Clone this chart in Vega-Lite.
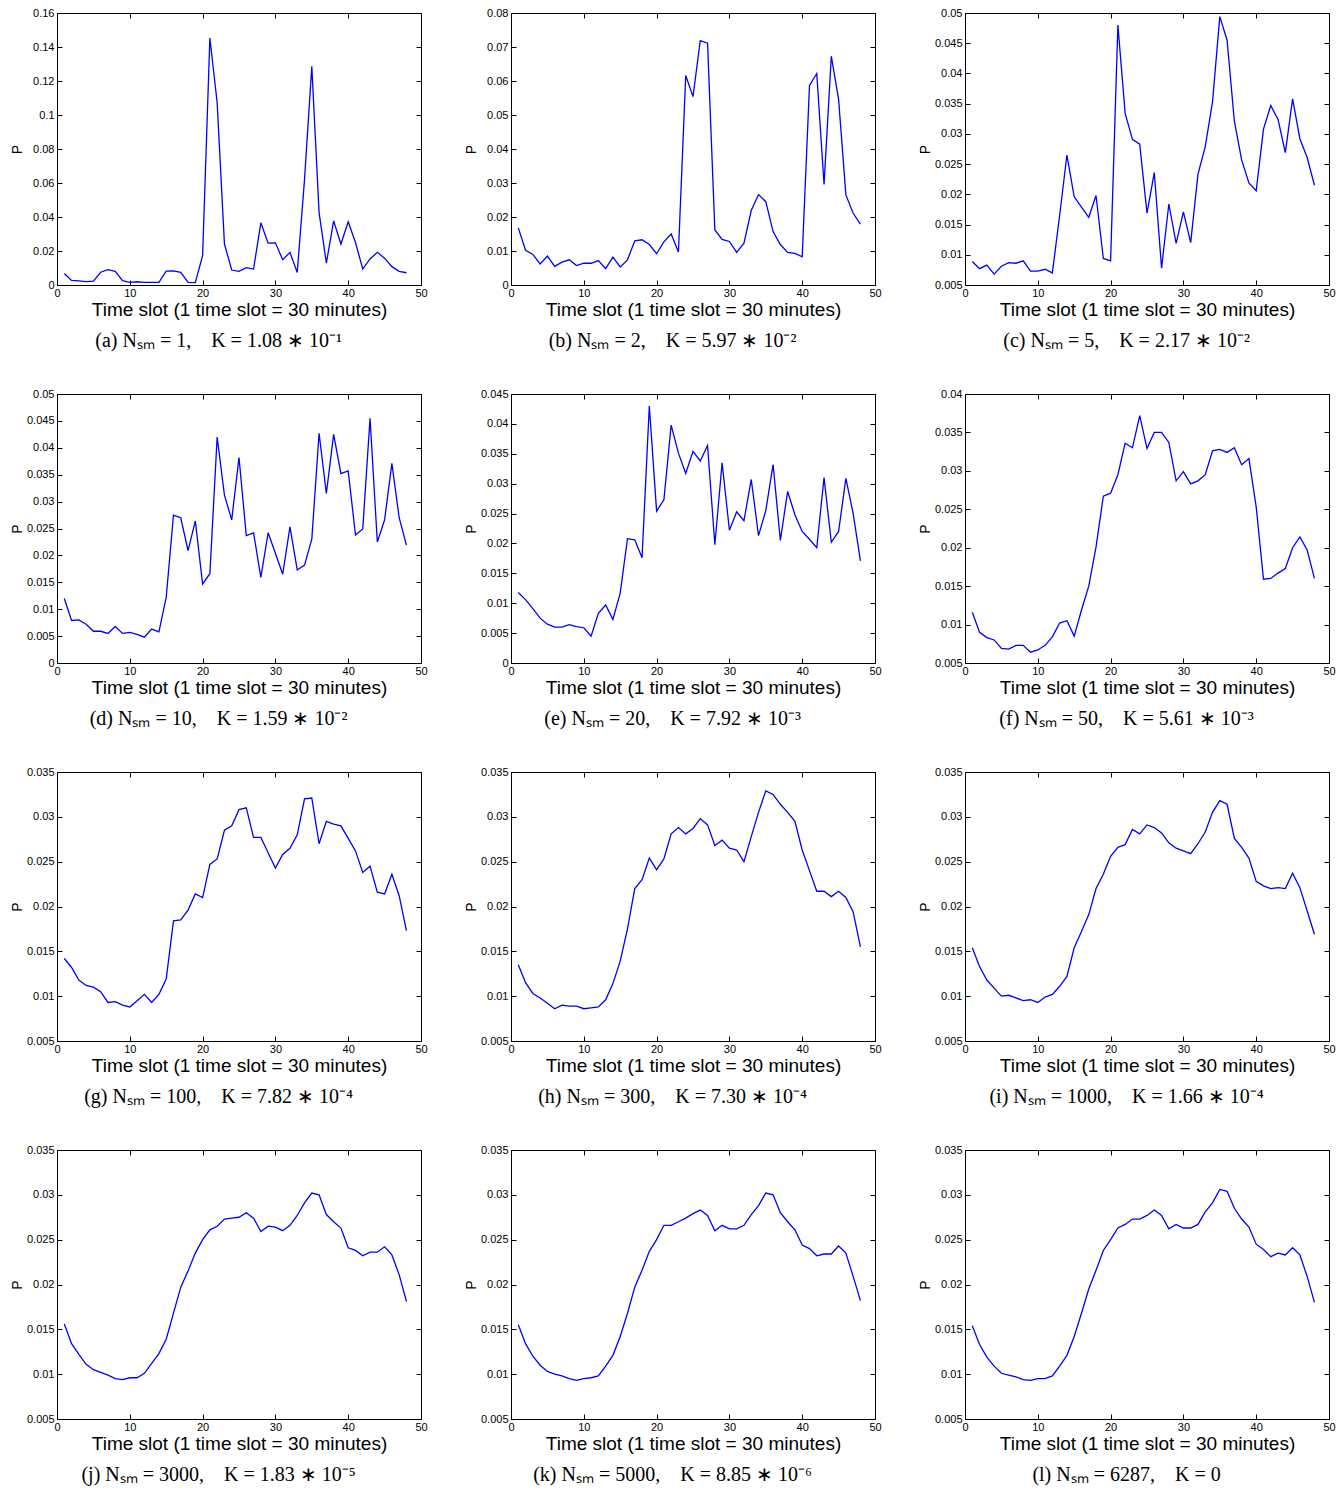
{
"$schema": "https://vega.github.io/schema/vega-lite/v6.json",
"background": "white",
"padding": {"left": 9, "top": 6, "right": 5, "bottom": 5},
"data": {"values": [
{"t":1,"a":0.0068,"b":0.0168,"c":0.0089,"d":0.012,"e":0.0118,"f":0.0116,"g":0.0142,"h":0.0135,"i":0.0154,"j":0.0156,"k":0.0155,"l":0.0154},
{"t":2,"a":0.0027,"b":0.0102,"c":0.0077,"d":0.0079,"e":0.0106,"f":0.009,"g":0.0132,"h":0.0115,"i":0.0133,"j":0.0134,"k":0.0134,"l":0.0133},
{"t":3,"a":0.0024,"b":0.009,"c":0.0083,"d":0.008,"e":0.0091,"f":0.0083,"g":0.0118,"h":0.0103,"i":0.0118,"j":0.0122,"k":0.012,"l":0.0119},
{"t":4,"a":0.002,"b":0.0062,"c":0.0068,"d":0.0072,"e":0.0075,"f":0.008,"g":0.0112,"h":0.0098,"i":0.0109,"j":0.0111,"k":0.011,"l":0.0109},
{"t":5,"a":0.0023,"b":0.0085,"c":0.0081,"d":0.0059,"e":0.0065,"f":0.0069,"g":0.011,"h":0.0092,"i":0.01,"j":0.0105,"k":0.0103,"l":0.0101},
{"t":6,"a":0.0075,"b":0.0055,"c":0.0087,"d":0.0059,"e":0.006,"f":0.0068,"g":0.0105,"h":0.0086,"i":0.0101,"j":0.0102,"k":0.01,"l":0.0099},
{"t":7,"a":0.009,"b":0.0067,"c":0.0086,"d":0.0055,"e":0.006,"f":0.0073,"g":0.0093,"h":0.009,"i":0.0098,"j":0.0099,"k":0.0098,"l":0.0097},
{"t":8,"a":0.008,"b":0.0074,"c":0.009,"d":0.0068,"e":0.0064,"f":0.0073,"g":0.0094,"h":0.0089,"i":0.0095,"j":0.0095,"k":0.0095,"l":0.0094},
{"t":9,"a":0.0025,"b":0.0057,"c":0.0073,"d":0.0055,"e":0.0061,"f":0.0064,"g":0.009,"h":0.0089,"i":0.0096,"j":0.0094,"k":0.0093,"l":0.0093},
{"t":10,"a":0.0016,"b":0.0064,"c":0.0073,"d":0.0057,"e":0.0059,"f":0.0067,"g":0.0088,"h":0.0086,"i":0.0093,"j":0.0096,"k":0.0095,"l":0.0095},
{"t":11,"a":0.0019,"b":0.0064,"c":0.0076,"d":0.0053,"e":0.0045,"f":0.0073,"g":0.0095,"h":0.0087,"i":0.0099,"j":0.0096,"k":0.0096,"l":0.0095},
{"t":12,"a":0.0016,"b":0.0072,"c":0.007,"d":0.0048,"e":0.0083,"f":0.0084,"g":0.0102,"h":0.0088,"i":0.0102,"j":0.0101,"k":0.0098,"l":0.0098},
{"t":13,"a":0.0015,"b":0.0048,"c":0.0165,"d":0.0063,"e":0.0097,"f":0.0102,"g":0.0093,"h":0.0096,"i":0.0111,"j":0.0112,"k":0.0109,"l":0.0109},
{"t":14,"a":0.0015,"b":0.0082,"c":0.0265,"d":0.0058,"e":0.0073,"f":0.0105,"g":0.0102,"h":0.0114,"i":0.0122,"j":0.0123,"k":0.0121,"l":0.0121},
{"t":15,"a":0.0082,"b":0.0053,"c":0.0196,"d":0.0122,"e":0.0117,"f":0.0085,"g":0.0119,"h":0.0139,"i":0.0154,"j":0.0139,"k":0.0142,"l":0.0142},
{"t":16,"a":0.0083,"b":0.0074,"c":0.0179,"d":0.0275,"e":0.0208,"f":0.0119,"g":0.0184,"h":0.0175,"i":0.0172,"j":0.0168,"k":0.0168,"l":0.0168},
{"t":17,"a":0.0074,"b":0.013,"c":0.0162,"d":0.027,"e":0.0206,"f":0.015,"g":0.0185,"h":0.022,"i":0.0191,"j":0.0197,"k":0.0197,"l":0.0195},
{"t":18,"a":0.0015,"b":0.0133,"c":0.0198,"d":0.0209,"e":0.0176,"f":0.0201,"g":0.0196,"h":0.023,"i":0.022,"j":0.0215,"k":0.0216,"l":0.0216},
{"t":19,"a":0.0014,"b":0.0119,"c":0.0094,"d":0.0264,"e":0.043,"f":0.0267,"g":0.0214,"h":0.0254,"i":0.0236,"j":0.0235,"k":0.0237,"l":0.0238},
{"t":20,"a":0.0172,"b":0.0092,"c":0.009,"d":0.0147,"e":0.0254,"f":0.0271,"g":0.021,"h":0.0241,"i":0.0256,"j":0.025,"k":0.025,"l":0.025},
{"t":21,"a":0.1453,"b":0.0127,"c":0.048,"d":0.0166,"e":0.0273,"f":0.0295,"g":0.0247,"h":0.0253,"i":0.0266,"j":0.0261,"k":0.0266,"l":0.0263},
{"t":22,"a":0.1072,"b":0.015,"c":0.0334,"d":0.042,"e":0.0398,"f":0.0336,"g":0.0253,"h":0.0281,"i":0.0269,"j":0.0265,"k":0.0266,"l":0.0267},
{"t":23,"a":0.0241,"b":0.0097,"c":0.0291,"d":0.0312,"e":0.0351,"f":0.033,"g":0.0285,"h":0.0288,"i":0.0286,"j":0.0273,"k":0.027,"l":0.0273},
{"t":24,"a":0.0088,"b":0.0616,"c":0.0283,"d":0.0266,"e":0.0317,"f":0.0372,"g":0.029,"h":0.0281,"i":0.0281,"j":0.0274,"k":0.0274,"l":0.0273},
{"t":25,"a":0.008,"b":0.0554,"c":0.0169,"d":0.0382,"e":0.0354,"f":0.0329,"g":0.0308,"h":0.0287,"i":0.0291,"j":0.0275,"k":0.0279,"l":0.0277},
{"t":26,"a":0.0102,"b":0.0719,"c":0.0236,"d":0.0237,"e":0.0338,"f":0.035,"g":0.031,"h":0.0298,"i":0.0288,"j":0.028,"k":0.0283,"l":0.0283},
{"t":27,"a":0.0094,"b":0.0711,"c":0.0078,"d":0.0242,"e":0.0364,"f":0.035,"g":0.0277,"h":0.0291,"i":0.0282,"j":0.0274,"k":0.0277,"l":0.0277},
{"t":28,"a":0.0366,"b":0.0162,"c":0.0184,"d":0.0159,"e":0.0198,"f":0.0337,"g":0.0277,"h":0.0268,"i":0.0271,"j":0.0259,"k":0.026,"l":0.0262},
{"t":29,"a":0.0246,"b":0.0134,"c":0.0119,"d":0.0242,"e":0.0335,"f":0.0287,"g":0.026,"h":0.0274,"i":0.0265,"j":0.0265,"k":0.0266,"l":0.0267},
{"t":30,"a":0.0248,"b":0.0128,"c":0.0171,"d":0.0204,"e":0.0222,"f":0.0299,"g":0.0243,"h":0.0265,"i":0.0262,"j":0.0264,"k":0.0262,"l":0.0263},
{"t":31,"a":0.0149,"b":0.0096,"c":0.012,"d":0.0165,"e":0.0253,"f":0.0283,"g":0.0258,"h":0.0263,"i":0.0259,"j":0.026,"k":0.0262,"l":0.0263},
{"t":32,"a":0.0192,"b":0.0123,"c":0.0233,"d":0.0253,"e":0.0238,"f":0.0287,"g":0.0265,"h":0.025,"i":0.027,"j":0.0266,"k":0.0266,"l":0.0267},
{"t":33,"a":0.0074,"b":0.0219,"c":0.0279,"d":0.0173,"e":0.0307,"f":0.0295,"g":0.028,"h":0.0278,"i":0.0283,"j":0.0277,"k":0.0278,"l":0.0281},
{"t":34,"a":0.062,"b":0.0266,"c":0.0353,"d":0.0182,"e":0.0213,"f":0.0326,"g":0.032,"h":0.0305,"i":0.0305,"j":0.0291,"k":0.0288,"l":0.0291},
{"t":35,"a":0.1287,"b":0.0245,"c":0.0494,"d":0.023,"e":0.0255,"f":0.0328,"g":0.0321,"h":0.0329,"i":0.0318,"j":0.0302,"k":0.0302,"l":0.0306},
{"t":36,"a":0.0426,"b":0.0157,"c":0.0455,"d":0.0427,"e":0.0332,"f":0.0324,"g":0.027,"h":0.0325,"i":0.0314,"j":0.03,"k":0.03,"l":0.0304},
{"t":37,"a":0.0129,"b":0.0119,"c":0.0321,"d":0.0315,"e":0.0205,"f":0.033,"g":0.0295,"h":0.0314,"i":0.0276,"j":0.0278,"k":0.028,"l":0.0285},
{"t":38,"a":0.0377,"b":0.0096,"c":0.0257,"d":0.0425,"e":0.0287,"f":0.0308,"g":0.0292,"h":0.0305,"i":0.0266,"j":0.027,"k":0.027,"l":0.0273},
{"t":39,"a":0.0241,"b":0.0093,"c":0.0219,"d":0.0352,"e":0.0248,"f":0.0316,"g":0.029,"h":0.0295,"i":0.0254,"j":0.0263,"k":0.0261,"l":0.0264},
{"t":40,"a":0.0372,"b":0.0083,"c":0.0206,"d":0.0357,"e":0.022,"f":0.0253,"g":0.0276,"h":0.0263,"i":0.0228,"j":0.0241,"k":0.0244,"l":0.0245},
{"t":41,"a":0.025,"b":0.0587,"c":0.0308,"d":0.0238,"e":0.0207,"f":0.0159,"g":0.0262,"h":0.024,"i":0.0223,"j":0.0238,"k":0.024,"l":0.0239},
{"t":42,"a":0.0094,"b":0.0622,"c":0.0347,"d":0.0249,"e":0.0193,"f":0.016,"g":0.0238,"h":0.0217,"i":0.022,"j":0.0232,"k":0.0232,"l":0.0231},
{"t":43,"a":0.0153,"b":0.0296,"c":0.0324,"d":0.0455,"e":0.031,"f":0.0167,"g":0.0245,"h":0.0217,"i":0.0221,"j":0.0236,"k":0.0234,"l":0.0235},
{"t":44,"a":0.0192,"b":0.0673,"c":0.0269,"d":0.0225,"e":0.0202,"f":0.0173,"g":0.0216,"h":0.0211,"i":0.022,"j":0.0236,"k":0.0234,"l":0.0233},
{"t":45,"a":0.0158,"b":0.0546,"c":0.0358,"d":0.0266,"e":0.022,"f":0.02,"g":0.0214,"h":0.0217,"i":0.0237,"j":0.0242,"k":0.0243,"l":0.0241},
{"t":46,"a":0.0108,"b":0.0265,"c":0.0292,"d":0.0371,"e":0.0309,"f":0.0214,"g":0.0236,"h":0.021,"i":0.0221,"j":0.0233,"k":0.0235,"l":0.0233},
{"t":47,"a":0.008,"b":0.0211,"c":0.0261,"d":0.027,"e":0.025,"f":0.0197,"g":0.0212,"h":0.0194,"i":0.0195,"j":0.0211,"k":0.0209,"l":0.0209},
{"t":48,"a":0.0072,"b":0.0179,"c":0.0215,"d":0.0219,"e":0.0171,"f":0.016,"g":0.0173,"h":0.0155,"i":0.0169,"j":0.0181,"k":0.0182,"l":0.018}
]},
"columns": 3,
"bounds": "flush",
"spacing": {"row": 109, "column": 90},
"concat": [
{"width": 364, "height": 272, "title": "(a) N\u209b\u2098\u2005=\u20051,\u2003K\u2005=\u20051.08\u2005\u2217\u200510\u207b\u00b9", "layer": [
 {"mark": {"type": "line", "color": "#0000ff", "strokeWidth": 1.3}, "encoding": {"x": {"field": "t", "type": "quantitative", "scale": {"domain": [0, 50], "nice": false, "zero": false}, "axis": {"values": [0,10,20,30,40,50], "format": "d", "title": "Time slot (1 time slot = 30 minutes)"}}, "y": {"field": "a", "type": "quantitative", "scale": {"domain": [0, 0.16], "nice": false, "zero": false}, "axis": {"values": [0,0.02,0.04,0.06,0.08,0.1,0.12,0.14,0.16], "format": "~g", "title": "P"}}}},
 {"mark": {"type": "line", "opacity": 0}, "encoding": {"x": {"field": "t", "type": "quantitative", "axis": {"orient": "top", "values": [0,10,20,30,40,50], "labels": false, "title": null, "minExtent": 0, "maxExtent": 0}}, "y": {"field": "a", "type": "quantitative", "axis": {"orient": "right", "values": [0,0.02,0.04,0.06,0.08,0.1,0.12,0.14,0.16], "labels": false, "title": null, "minExtent": 0, "maxExtent": 0}}}}
], "resolve": {"axis": {"x": "independent", "y": "independent"}}},
{"width": 364, "height": 272, "title": "(b) N\u209b\u2098\u2005=\u20052,\u2003K\u2005=\u20055.97\u2005\u2217\u200510\u207b\u00b2", "layer": [
 {"mark": {"type": "line", "color": "#0000ff", "strokeWidth": 1.3}, "encoding": {"x": {"field": "t", "type": "quantitative", "scale": {"domain": [0, 50], "nice": false, "zero": false}, "axis": {"values": [0,10,20,30,40,50], "format": "d", "title": "Time slot (1 time slot = 30 minutes)"}}, "y": {"field": "b", "type": "quantitative", "scale": {"domain": [0, 0.08], "nice": false, "zero": false}, "axis": {"values": [0,0.01,0.02,0.03,0.04,0.05,0.06,0.07,0.08], "format": "~g", "title": "P"}}}},
 {"mark": {"type": "line", "opacity": 0}, "encoding": {"x": {"field": "t", "type": "quantitative", "axis": {"orient": "top", "values": [0,10,20,30,40,50], "labels": false, "title": null, "minExtent": 0, "maxExtent": 0}}, "y": {"field": "b", "type": "quantitative", "axis": {"orient": "right", "values": [0,0.01,0.02,0.03,0.04,0.05,0.06,0.07,0.08], "labels": false, "title": null, "minExtent": 0, "maxExtent": 0}}}}
], "resolve": {"axis": {"x": "independent", "y": "independent"}}},
{"width": 364, "height": 272, "title": "(c) N\u209b\u2098\u2005=\u20055,\u2003K\u2005=\u20052.17\u2005\u2217\u200510\u207b\u00b2", "layer": [
 {"mark": {"type": "line", "color": "#0000ff", "strokeWidth": 1.3}, "encoding": {"x": {"field": "t", "type": "quantitative", "scale": {"domain": [0, 50], "nice": false, "zero": false}, "axis": {"values": [0,10,20,30,40,50], "format": "d", "title": "Time slot (1 time slot = 30 minutes)"}}, "y": {"field": "c", "type": "quantitative", "scale": {"domain": [0.005, 0.05], "nice": false, "zero": false}, "axis": {"values": [0.005,0.01,0.015,0.02,0.025,0.03,0.035,0.04,0.045,0.05], "format": "~g", "title": "P"}}}},
 {"mark": {"type": "line", "opacity": 0}, "encoding": {"x": {"field": "t", "type": "quantitative", "axis": {"orient": "top", "values": [0,10,20,30,40,50], "labels": false, "title": null, "minExtent": 0, "maxExtent": 0}}, "y": {"field": "c", "type": "quantitative", "axis": {"orient": "right", "values": [0.005,0.01,0.015,0.02,0.025,0.03,0.035,0.04,0.045,0.05], "labels": false, "title": null, "minExtent": 0, "maxExtent": 0}}}}
], "resolve": {"axis": {"x": "independent", "y": "independent"}}},
{"width": 364, "height": 269, "title": "(d) N\u209b\u2098\u2005=\u200510,\u2003K\u2005=\u20051.59\u2005\u2217\u200510\u207b\u00b2", "layer": [
 {"mark": {"type": "line", "color": "#0000ff", "strokeWidth": 1.3}, "encoding": {"x": {"field": "t", "type": "quantitative", "scale": {"domain": [0, 50], "nice": false, "zero": false}, "axis": {"values": [0,10,20,30,40,50], "format": "d", "title": "Time slot (1 time slot = 30 minutes)"}}, "y": {"field": "d", "type": "quantitative", "scale": {"domain": [0, 0.05], "nice": false, "zero": false}, "axis": {"values": [0,0.005,0.01,0.015,0.02,0.025,0.03,0.035,0.04,0.045,0.05], "format": "~g", "title": "P"}}}},
 {"mark": {"type": "line", "opacity": 0}, "encoding": {"x": {"field": "t", "type": "quantitative", "axis": {"orient": "top", "values": [0,10,20,30,40,50], "labels": false, "title": null, "minExtent": 0, "maxExtent": 0}}, "y": {"field": "d", "type": "quantitative", "axis": {"orient": "right", "values": [0,0.005,0.01,0.015,0.02,0.025,0.03,0.035,0.04,0.045,0.05], "labels": false, "title": null, "minExtent": 0, "maxExtent": 0}}}}
], "resolve": {"axis": {"x": "independent", "y": "independent"}}},
{"width": 364, "height": 269, "title": "(e) N\u209b\u2098\u2005=\u200520,\u2003K\u2005=\u20057.92\u2005\u2217\u200510\u207b\u00b3", "layer": [
 {"mark": {"type": "line", "color": "#0000ff", "strokeWidth": 1.3}, "encoding": {"x": {"field": "t", "type": "quantitative", "scale": {"domain": [0, 50], "nice": false, "zero": false}, "axis": {"values": [0,10,20,30,40,50], "format": "d", "title": "Time slot (1 time slot = 30 minutes)"}}, "y": {"field": "e", "type": "quantitative", "scale": {"domain": [0, 0.045], "nice": false, "zero": false}, "axis": {"values": [0,0.005,0.01,0.015,0.02,0.025,0.03,0.035,0.04,0.045], "format": "~g", "title": "P"}}}},
 {"mark": {"type": "line", "opacity": 0}, "encoding": {"x": {"field": "t", "type": "quantitative", "axis": {"orient": "top", "values": [0,10,20,30,40,50], "labels": false, "title": null, "minExtent": 0, "maxExtent": 0}}, "y": {"field": "e", "type": "quantitative", "axis": {"orient": "right", "values": [0,0.005,0.01,0.015,0.02,0.025,0.03,0.035,0.04,0.045], "labels": false, "title": null, "minExtent": 0, "maxExtent": 0}}}}
], "resolve": {"axis": {"x": "independent", "y": "independent"}}},
{"width": 364, "height": 269, "title": "(f) N\u209b\u2098\u2005=\u200550,\u2003K\u2005=\u20055.61\u2005\u2217\u200510\u207b\u00b3", "layer": [
 {"mark": {"type": "line", "color": "#0000ff", "strokeWidth": 1.3}, "encoding": {"x": {"field": "t", "type": "quantitative", "scale": {"domain": [0, 50], "nice": false, "zero": false}, "axis": {"values": [0,10,20,30,40,50], "format": "d", "title": "Time slot (1 time slot = 30 minutes)"}}, "y": {"field": "f", "type": "quantitative", "scale": {"domain": [0.005, 0.04], "nice": false, "zero": false}, "axis": {"values": [0.005,0.01,0.015,0.02,0.025,0.03,0.035,0.04], "format": "~g", "title": "P"}}}},
 {"mark": {"type": "line", "opacity": 0}, "encoding": {"x": {"field": "t", "type": "quantitative", "axis": {"orient": "top", "values": [0,10,20,30,40,50], "labels": false, "title": null, "minExtent": 0, "maxExtent": 0}}, "y": {"field": "f", "type": "quantitative", "axis": {"orient": "right", "values": [0.005,0.01,0.015,0.02,0.025,0.03,0.035,0.04], "labels": false, "title": null, "minExtent": 0, "maxExtent": 0}}}}
], "resolve": {"axis": {"x": "independent", "y": "independent"}}},
{"width": 364, "height": 269, "title": "(g) N\u209b\u2098\u2005=\u2005100,\u2003K\u2005=\u20057.82\u2005\u2217\u200510\u207b\u2074", "layer": [
 {"mark": {"type": "line", "color": "#0000ff", "strokeWidth": 1.3}, "encoding": {"x": {"field": "t", "type": "quantitative", "scale": {"domain": [0, 50], "nice": false, "zero": false}, "axis": {"values": [0,10,20,30,40,50], "format": "d", "title": "Time slot (1 time slot = 30 minutes)"}}, "y": {"field": "g", "type": "quantitative", "scale": {"domain": [0.005, 0.035], "nice": false, "zero": false}, "axis": {"values": [0.005,0.01,0.015,0.02,0.025,0.03,0.035], "format": "~g", "title": "P"}}}},
 {"mark": {"type": "line", "opacity": 0}, "encoding": {"x": {"field": "t", "type": "quantitative", "axis": {"orient": "top", "values": [0,10,20,30,40,50], "labels": false, "title": null, "minExtent": 0, "maxExtent": 0}}, "y": {"field": "g", "type": "quantitative", "axis": {"orient": "right", "values": [0.005,0.01,0.015,0.02,0.025,0.03,0.035], "labels": false, "title": null, "minExtent": 0, "maxExtent": 0}}}}
], "resolve": {"axis": {"x": "independent", "y": "independent"}}},
{"width": 364, "height": 269, "title": "(h) N\u209b\u2098\u2005=\u2005300,\u2003K\u2005=\u20057.30\u2005\u2217\u200510\u207b\u2074", "layer": [
 {"mark": {"type": "line", "color": "#0000ff", "strokeWidth": 1.3}, "encoding": {"x": {"field": "t", "type": "quantitative", "scale": {"domain": [0, 50], "nice": false, "zero": false}, "axis": {"values": [0,10,20,30,40,50], "format": "d", "title": "Time slot (1 time slot = 30 minutes)"}}, "y": {"field": "h", "type": "quantitative", "scale": {"domain": [0.005, 0.035], "nice": false, "zero": false}, "axis": {"values": [0.005,0.01,0.015,0.02,0.025,0.03,0.035], "format": "~g", "title": "P"}}}},
 {"mark": {"type": "line", "opacity": 0}, "encoding": {"x": {"field": "t", "type": "quantitative", "axis": {"orient": "top", "values": [0,10,20,30,40,50], "labels": false, "title": null, "minExtent": 0, "maxExtent": 0}}, "y": {"field": "h", "type": "quantitative", "axis": {"orient": "right", "values": [0.005,0.01,0.015,0.02,0.025,0.03,0.035], "labels": false, "title": null, "minExtent": 0, "maxExtent": 0}}}}
], "resolve": {"axis": {"x": "independent", "y": "independent"}}},
{"width": 364, "height": 269, "title": "(i) N\u209b\u2098\u2005=\u20051000,\u2003K\u2005=\u20051.66\u2005\u2217\u200510\u207b\u2074", "layer": [
 {"mark": {"type": "line", "color": "#0000ff", "strokeWidth": 1.3}, "encoding": {"x": {"field": "t", "type": "quantitative", "scale": {"domain": [0, 50], "nice": false, "zero": false}, "axis": {"values": [0,10,20,30,40,50], "format": "d", "title": "Time slot (1 time slot = 30 minutes)"}}, "y": {"field": "i", "type": "quantitative", "scale": {"domain": [0.005, 0.035], "nice": false, "zero": false}, "axis": {"values": [0.005,0.01,0.015,0.02,0.025,0.03,0.035], "format": "~g", "title": "P"}}}},
 {"mark": {"type": "line", "opacity": 0}, "encoding": {"x": {"field": "t", "type": "quantitative", "axis": {"orient": "top", "values": [0,10,20,30,40,50], "labels": false, "title": null, "minExtent": 0, "maxExtent": 0}}, "y": {"field": "i", "type": "quantitative", "axis": {"orient": "right", "values": [0.005,0.01,0.015,0.02,0.025,0.03,0.035], "labels": false, "title": null, "minExtent": 0, "maxExtent": 0}}}}
], "resolve": {"axis": {"x": "independent", "y": "independent"}}},
{"width": 364, "height": 269, "title": "(j) N\u209b\u2098\u2005=\u20053000,\u2003K\u2005=\u20051.83\u2005\u2217\u200510\u207b\u2075", "layer": [
 {"mark": {"type": "line", "color": "#0000ff", "strokeWidth": 1.3}, "encoding": {"x": {"field": "t", "type": "quantitative", "scale": {"domain": [0, 50], "nice": false, "zero": false}, "axis": {"values": [0,10,20,30,40,50], "format": "d", "title": "Time slot (1 time slot = 30 minutes)"}}, "y": {"field": "j", "type": "quantitative", "scale": {"domain": [0.005, 0.035], "nice": false, "zero": false}, "axis": {"values": [0.005,0.01,0.015,0.02,0.025,0.03,0.035], "format": "~g", "title": "P"}}}},
 {"mark": {"type": "line", "opacity": 0}, "encoding": {"x": {"field": "t", "type": "quantitative", "axis": {"orient": "top", "values": [0,10,20,30,40,50], "labels": false, "title": null, "minExtent": 0, "maxExtent": 0}}, "y": {"field": "j", "type": "quantitative", "axis": {"orient": "right", "values": [0.005,0.01,0.015,0.02,0.025,0.03,0.035], "labels": false, "title": null, "minExtent": 0, "maxExtent": 0}}}}
], "resolve": {"axis": {"x": "independent", "y": "independent"}}},
{"width": 364, "height": 269, "title": "(k) N\u209b\u2098\u2005=\u20055000,\u2003K\u2005=\u20058.85\u2005\u2217\u200510\u207b\u2076", "layer": [
 {"mark": {"type": "line", "color": "#0000ff", "strokeWidth": 1.3}, "encoding": {"x": {"field": "t", "type": "quantitative", "scale": {"domain": [0, 50], "nice": false, "zero": false}, "axis": {"values": [0,10,20,30,40,50], "format": "d", "title": "Time slot (1 time slot = 30 minutes)"}}, "y": {"field": "k", "type": "quantitative", "scale": {"domain": [0.005, 0.035], "nice": false, "zero": false}, "axis": {"values": [0.005,0.01,0.015,0.02,0.025,0.03,0.035], "format": "~g", "title": "P"}}}},
 {"mark": {"type": "line", "opacity": 0}, "encoding": {"x": {"field": "t", "type": "quantitative", "axis": {"orient": "top", "values": [0,10,20,30,40,50], "labels": false, "title": null, "minExtent": 0, "maxExtent": 0}}, "y": {"field": "k", "type": "quantitative", "axis": {"orient": "right", "values": [0.005,0.01,0.015,0.02,0.025,0.03,0.035], "labels": false, "title": null, "minExtent": 0, "maxExtent": 0}}}}
], "resolve": {"axis": {"x": "independent", "y": "independent"}}},
{"width": 364, "height": 269, "title": "(l) N\u209b\u2098\u2005=\u20056287,\u2003K\u2005=\u20050", "layer": [
 {"mark": {"type": "line", "color": "#0000ff", "strokeWidth": 1.3}, "encoding": {"x": {"field": "t", "type": "quantitative", "scale": {"domain": [0, 50], "nice": false, "zero": false}, "axis": {"values": [0,10,20,30,40,50], "format": "d", "title": "Time slot (1 time slot = 30 minutes)"}}, "y": {"field": "l", "type": "quantitative", "scale": {"domain": [0.005, 0.035], "nice": false, "zero": false}, "axis": {"values": [0.005,0.01,0.015,0.02,0.025,0.03,0.035], "format": "~g", "title": "P"}}}},
 {"mark": {"type": "line", "opacity": 0}, "encoding": {"x": {"field": "t", "type": "quantitative", "axis": {"orient": "top", "values": [0,10,20,30,40,50], "labels": false, "title": null, "minExtent": 0, "maxExtent": 0}}, "y": {"field": "l", "type": "quantitative", "axis": {"orient": "right", "values": [0.005,0.01,0.015,0.02,0.025,0.03,0.035], "labels": false, "title": null, "minExtent": 0, "maxExtent": 0}}}}
], "resolve": {"axis": {"x": "independent", "y": "independent"}}}
],
"config": {
 "font": "Liberation Sans",
 "view": {"stroke": "#000000", "strokeWidth": 1},
 "axis": {"grid": false, "domain": false, "tickColor": "#000000", "tickSize": -5, "tickWidth": 1, "labelColor": "#000000", "labelFont": "Liberation Sans", "labelFontSize": 11, "titleColor": "#000000", "titleFont": "Liberation Sans", "titleFontWeight": "normal", "labelFlush": false, "labelOverlap": false},
 "axisX": {"labelPadding": 7, "titleFontSize": 19, "titlePadding": 1, "minExtent": 14, "maxExtent": 14, "labelAngle": 0},
 "axisY": {"labelPadding": 8, "titleFontSize": 14, "titlePadding": 3, "minExtent": 30, "maxExtent": 30},
 "title": {"font": "Liberation Serif", "fontSize": 20, "fontWeight": "normal", "color": "#000000", "orient": "bottom", "anchor": "middle", "frame": "bounds", "offset": 12}
}
}
